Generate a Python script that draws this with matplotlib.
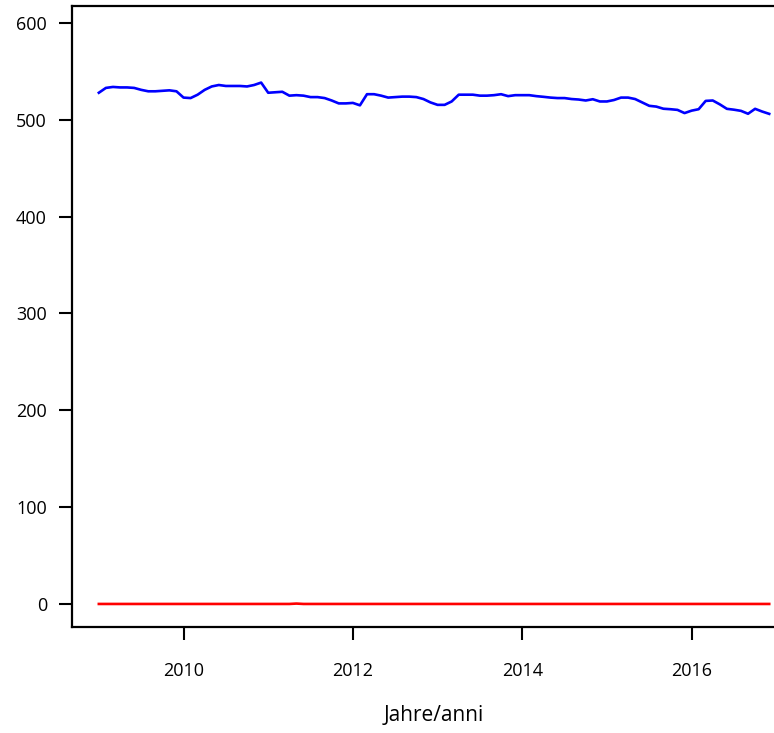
import matplotlib
matplotlib.use("Agg")
import matplotlib.pyplot as plt
import numpy as np

plt.rcParams['font.family'] = ['Open Sans', 'DejaVu Sans']

# monthly series, Jan 2009 - Dec 2016
start_year = 2009
blue_values = [
    528, 533, 534, 533.5, 533.5, 533, 531, 529.5, 529.5, 530, 530.5, 529.5,
    523, 522.5, 526, 531, 534.5, 536, 535, 535, 535, 534.5, 536, 538.5,
    528, 528.5, 529, 525, 525.5, 525, 523.5, 523.5, 522.5, 520, 517, 517,
    517.5, 515, 526.5, 526.5, 525, 523, 523.5, 524, 524, 523.5, 521.5, 518,
    515.5, 515.5, 519, 526, 526, 526, 525, 525, 525.5, 526.5, 524.5, 525.5,
    525.5, 525.5, 524.5, 523.8, 523, 522.5, 522.5, 521.5, 521, 520, 521.3, 519,
    519, 520.5, 523, 523, 521.5, 518, 514.5, 513.7, 511.5, 511, 510.3, 507,
    509.5, 511, 519.6, 520, 516, 511.4, 510.5, 509.3, 506.3, 511.4, 508.6, 506.2,
]
red_values = [0] * 96
red_values[28] = 0.4

x_ticks = [2010, 2012, 2014, 2016]
y_ticks = [0, 100, 200, 300, 400, 500, 600]
x_label = "Jahre/anni"

years = start_year + np.arange(len(blue_values)) / 12

fig = plt.figure(figsize=(7.74, 7.33), dpi=100)
ax = fig.add_axes([72 / 774, 106 / 733, 724 / 774, 621 / 733])

ax.plot(years, blue_values, color='#0000ff', lw=1.9, solid_joinstyle='round')
ax.plot(years, red_values, color='#ff0000', lw=1.9)

# R style 4% extension around the data
ax.set_xlim(2008.683, 2017.233)
ax.set_ylim(-23.8, 617.6)

ax.set_xticks(x_ticks)
ax.set_yticks(y_ticks)
ax.tick_params(axis='both', direction='out', length=9.5, width=1.5,
               labelsize=13, colors='black')
ax.tick_params(axis='y', pad=8.5)
ax.tick_params(axis='x', pad=15.5)

for side in ax.spines.values():
    side.set_linewidth(1.6)

ax.set_xlabel(x_label, fontsize=15, va='top')
ax.xaxis.set_label_coords(0.5, -0.125)

fig.savefig("out.png", dpi=100)
